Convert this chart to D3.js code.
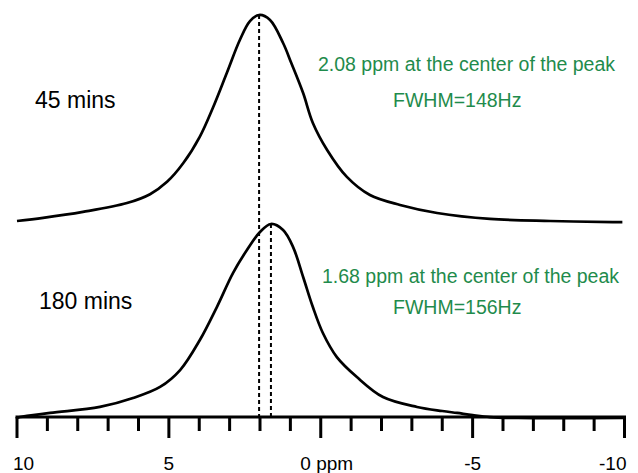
<!DOCTYPE html>
<html>

<head>
  <title>NMR peak shift (45 vs 180 mins)</title>
  <meta charset="utf-8">

  <style>
    body {
      padding: 0;
      margin: 0;
      background: white;
      font-family: Arial, "Liberation Sans", sans-serif;
    }
    #chart {
      width: 638px;
      height: 473px;
    }
    .spectrum {
      fill: none;
      stroke: black;
      stroke-width: 2.7;
      stroke-linejoin: round;
    }
    .center-line {
      stroke: black;
      stroke-width: 2;
      stroke-dasharray: 4, 3;
    }
    .axis line {
      stroke: black;
      stroke-width: 3;
    }
    .tick-label {
      fill: black;
      font-size: 19px;
    }
    .time-label {
      fill: black;
      font-size: 23px;
    }
    .note {
      fill: #1f8b4c;
      font-size: 19.5px;
    }
  </style>
</head>

<body>
  <div id="chart"></div>

  <!-- ####### LOAD D3 Libary ####### -->
  <script src="https://d3js.org/d3.v7.min.js"></script>

  <script>

  // ####### DATA: [ppm, relative intensity] #######
  var spectrum45 = [
    [10.0, 0], [9.14, 1.5], [7.83, 4.4], [6.38, 8.7], [5.62, 13],
    [5.06, 19], [4.53, 28], [3.98, 41], [3.55, 55], [3.09, 72],
    [2.66, 88], [2.33, 97], [2.03, 100], [1.67, 97.6], [1.24, 86.4],
    [0.97, 76.7], [0.58, 62.1], [0.26, 47.6], [-0.21, 34.5], [-0.86, 21.4],
    [-1.62, 12.6], [-2.61, 7.8], [-3.83, 3.9], [-5.57, 1.0], [-7.55, 0],
    [-9.62, -0.5], [-9.93, -0.5]
  ]

  var spectrum180 = [
    [10.0, 0], [9.90, 0.5], [8.91, 2.6], [7.27, 5.7], [6.18, 10.3],
    [5.29, 16.0], [4.63, 24.7], [3.98, 40.2], [3.42, 57.2], [2.89, 74.7],
    [2.43, 86.6], [2.00, 95.9], [1.64, 100], [1.24, 96.9], [0.91, 88.1],
    [0.58, 72.7], [0.26, 57.2], [-0.07, 43.8], [-0.53, 31.4], [-1.19, 21.1],
    [-2.05, 10.8], [-3.17, 5.7], [-4.0, 3.6], [-4.49, 2.6], [-5.0, 1.5],
    [-5.57, 0.5], [-6.5, 0], [-9.95, 0]
  ]

  // ####### PEAK CENTERS (WHERE THE DASHED LINES SIT) #######
  var peakCenters = [2.03, 1.64]

  // ####### LABELS #######
  var timeLabels = ["45 mins", "180 mins"]
  var centerNotes = ["2.08 ppm at the center of the peak", "1.68 ppm at the center of the peak"]
  var fwhmNotes = ["FWHM=148Hz", "FWHM=156Hz"]

  // ####### AXIS TICKS #######
  var majorTicks = [10, 5, 0, -5, -10]
  var minorTicks = d3.range(10, -11, -1).filter(function (d) { return d % 5 !== 0 })
  var tickLabels = ["10", "5", "0 ppm", "-5", "-10"]

  drawChart()

  function drawChart() {

      var width = 638,
          height = 473,
          axisY = 417

      var svg = d3.select("#chart")
          .append("svg")
          .attr("width", width)
          .attr("height", height)

      // ####### PPM RUNS RIGHT TO LEFT #######
      var x = d3.scaleLinear().domain([10, -10]).range([17, 624.5])

      // ####### ONE Y SCALE PER TRACE (STACKED) #######
      var yScales = [
        d3.scaleLinear().domain([0, 100]).range([221, 15]),
        d3.scaleLinear().domain([0, 100]).range([418, 224])
      ]

      var spectra = [spectrum45, spectrum180]

      // ####### DASHED CENTER LINES (DRAWN UNDER THE TRACES) #######
      svg.append("g")
        .selectAll("line")
        .data(peakCenters)
        .enter().append("line")
        .attr("class", "center-line")
        .attr("x1", function (d) { return x(d) })
        .attr("x2", function (d) { return x(d) })
        .attr("y1", function (d, i) { return yScales[i](100) })
        .attr("y2", axisY)

      // ####### THE TWO TRACES #######
      svg.append("g")
        .selectAll("path")
        .data(spectra)
        .enter().append("path")
        .attr("class", "spectrum")
        .attr("d", function (d, i) {
          return d3.line()
            .x(function (p) { return x(p[0]) })
            .y(function (p) { return yScales[i](p[1]) })
            .curve(d3.curveCatmullRom.alpha(0.5))(d)
        })

      // ####### AXIS LINE + TICKS #######
      var axis = svg.append("g").attr("class", "axis")

      axis.append("line")
        .attr("x1", x(10) - 1.5)
        .attr("x2", x(-10) + 1.5)
        .attr("y1", axisY)
        .attr("y2", axisY)

      axis.selectAll(".major")
        .data(majorTicks)
        .enter().append("line")
        .attr("class", "major")
        .attr("x1", function (d) { return x(d) })
        .attr("x2", function (d) { return x(d) })
        .attr("y1", axisY)
        .attr("y2", axisY + 21)

      axis.selectAll(".minor")
        .data(minorTicks)
        .enter().append("line")
        .attr("class", "minor")
        .attr("x1", function (d) { return x(d) })
        .attr("x2", function (d) { return x(d) })
        .attr("y1", axisY)
        .attr("y2", axisY + 14)

      // ####### TICK LABELS (END ONES PULLED INSIDE) #######
      svg.append("g")
        .selectAll("text")
        .data(majorTicks)
        .enter().append("text")
        .attr("class", "tick-label")
        .attr("x", function (d, i) {
          if (i === 0) return x(d) - 4
          if (i === majorTicks.length - 1) return x(d) + 2
          if (d === 0) return x(d) + 6
          return x(d)
        })
        .attr("y", 470)
        .attr("text-anchor", function (d, i) {
          if (i === 0) return "start"
          if (i === majorTicks.length - 1) return "end"
          return "middle"
        })
        .text(function (d, i) { return tickLabels[i] })

      // ####### TIME LABELS #######
      svg.append("g")
        .selectAll("text")
        .data(timeLabels)
        .enter().append("text")
        .attr("class", "time-label")
        .attr("x", function (d, i) { return i === 0 ? 35 : 39 })
        .attr("y", function (d, i) { return i === 0 ? 108 : 309 })
        .text(function (d) { return d })

      // ####### GREEN NOTES #######
      var notes = svg.append("g")

      notes.selectAll(".center-note")
        .data(centerNotes)
        .enter().append("text")
        .attr("class", "note center-note")
        .attr("x", function (d, i) { return i === 0 ? 318 : 322 })
        .attr("y", function (d, i) { return i === 0 ? 71 : 283 })
        .text(function (d) { return d })

      notes.selectAll(".fwhm-note")
        .data(fwhmNotes)
        .enter().append("text")
        .attr("class", "note fwhm-note")
        .attr("x", 393)
        .attr("y", function (d, i) { return i === 0 ? 107 : 314 })
        .text(function (d) { return d })

  }

  </script>
</body>

</html>
